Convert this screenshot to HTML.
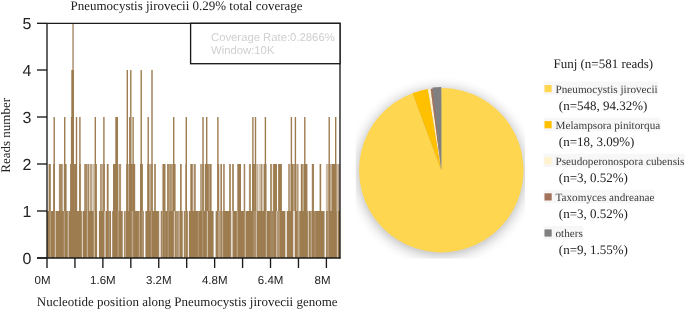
<!DOCTYPE html>
<html><head><meta charset="utf-8"><style>
html,body{margin:0;padding:0;background:#fff;}
text{text-rendering:geometricPrecision;}
body{width:685px;height:318px;overflow:hidden;position:relative;}
svg{position:absolute;left:0;top:0;}
.ser{font-family:"Liberation Serif",serif;}
.title{font-family:"Liberation Serif",serif;font-size:13px;fill:#222;}
.yt{font-family:"Liberation Sans",sans-serif;font-size:16px;fill:#222;text-anchor:end;}
.xt{font-family:"Liberation Sans",sans-serif;font-size:11.5px;fill:#222;text-anchor:middle;}
.cov{font-family:"Liberation Sans",sans-serif;font-size:11.3px;fill:#cfcfcf;}
.ln{font-family:"Liberation Serif",serif;font-size:11.2px;fill:#3a3a3a;}
.lc{font-family:"Liberation Serif",serif;font-size:13px;fill:#222;}
.lt{font-family:"Liberation Serif",serif;font-size:13px;fill:#222;}
</style></head><body>
<svg width="685" height="318" viewBox="0 0 685 318">
<defs><filter id="sh" x="-30%" y="-30%" width="160%" height="160%"><feGaussianBlur in="SourceAlpha" stdDeviation="7"/><feOffset dx="-0.3" dy="1.5" result="b"/><feComponentTransfer><feFuncA type="linear" slope="0.32"/></feComponentTransfer></filter><clipPath id="pc"><rect x="355.7" y="60" width="169.4" height="198.6"/></clipPath></defs>
<text transform="translate(70.5,9.6) skewX(0.05)" class="title">Pneumocystis jirovecii 0.29% total coverage</text>
<g><rect x="47.0" y="211.0" width="293.0" height="47.0" fill="#9d7c50"/><rect x="49.60" y="211.0" width="1.20" height="47.0" fill="#fff" fill-opacity="0.28"/><rect x="54.80" y="211.0" width="1.20" height="47.0" fill="#fff" fill-opacity="0.50"/><rect x="63.70" y="211.0" width="1.20" height="47.0" fill="#fff" fill-opacity="0.28"/><rect x="67.70" y="211.0" width="1.20" height="47.0" fill="#fff" fill-opacity="0.50"/><rect x="81.80" y="211.0" width="1.20" height="47.0" fill="#fff" fill-opacity="0.61"/><rect x="86.80" y="211.0" width="1.20" height="47.0" fill="#fff" fill-opacity="0.39"/><rect x="93.70" y="211.0" width="1.20" height="47.0" fill="#fff" fill-opacity="0.50"/><rect x="97.10" y="211.0" width="1.80" height="47.0" fill="#fff" fill-opacity="1.00"/><rect x="104.25" y="211.0" width="1.50" height="47.0" fill="#fff" fill-opacity="0.61"/><rect x="108.60" y="211.0" width="1.20" height="47.0" fill="#fff" fill-opacity="0.22"/><rect x="111.00" y="211.0" width="1.20" height="47.0" fill="#fff" fill-opacity="0.94"/><rect x="117.60" y="211.0" width="1.20" height="47.0" fill="#fff" fill-opacity="0.28"/><rect x="122.70" y="211.0" width="1.20" height="47.0" fill="#fff" fill-opacity="0.99"/><rect x="124.60" y="211.0" width="1.20" height="47.0" fill="#fff" fill-opacity="0.39"/><rect x="131.75" y="211.0" width="1.50" height="47.0" fill="#fff" fill-opacity="0.33"/><rect x="138.80" y="211.0" width="1.20" height="47.0" fill="#fff" fill-opacity="0.33"/><rect x="141.60" y="211.0" width="1.20" height="47.0" fill="#fff" fill-opacity="0.22"/><rect x="143.80" y="211.0" width="1.60" height="47.0" fill="#fff" fill-opacity="1.00"/><rect x="150.80" y="211.0" width="1.20" height="47.0" fill="#fff" fill-opacity="0.22"/><rect x="158.90" y="211.0" width="2.00" height="47.0" fill="#fff" fill-opacity="0.77"/><rect x="161.70" y="211.0" width="1.20" height="47.0" fill="#fff" fill-opacity="0.28"/><rect x="164.40" y="211.0" width="1.20" height="47.0" fill="#fff" fill-opacity="0.11"/><rect x="167.60" y="211.0" width="1.20" height="47.0" fill="#fff" fill-opacity="0.22"/><rect x="173.80" y="211.0" width="1.20" height="47.0" fill="#fff" fill-opacity="0.55"/><rect x="175.50" y="211.0" width="4.00" height="47.0" fill="#fff" fill-opacity="0.17"/><rect x="178.70" y="211.0" width="1.20" height="47.0" fill="#fff" fill-opacity="0.33"/><rect x="182.70" y="211.0" width="1.20" height="47.0" fill="#fff" fill-opacity="0.88"/><rect x="184.70" y="211.0" width="1.20" height="47.0" fill="#fff" fill-opacity="0.22"/><rect x="187.80" y="211.0" width="1.20" height="47.0" fill="#fff" fill-opacity="0.83"/><rect x="197.80" y="211.0" width="1.20" height="47.0" fill="#fff" fill-opacity="0.17"/><rect x="202.00" y="211.0" width="1.20" height="47.0" fill="#fff" fill-opacity="0.17"/><rect x="206.80" y="211.0" width="1.20" height="47.0" fill="#fff" fill-opacity="0.50"/><rect x="213.60" y="211.0" width="2.00" height="47.0" fill="#fff" fill-opacity="1.00"/><rect x="217.80" y="211.0" width="3.00" height="47.0" fill="#fff" fill-opacity="0.28"/><rect x="221.90" y="211.0" width="1.20" height="47.0" fill="#fff" fill-opacity="0.39"/><rect x="230.90" y="211.0" width="1.80" height="47.0" fill="#fff" fill-opacity="0.72"/><rect x="236.70" y="211.0" width="1.20" height="47.0" fill="#fff" fill-opacity="0.33"/><rect x="244.70" y="211.0" width="1.20" height="47.0" fill="#fff" fill-opacity="0.50"/><rect x="253.40" y="211.0" width="1.20" height="47.0" fill="#fff" fill-opacity="0.22"/><rect x="255.70" y="211.0" width="1.20" height="47.0" fill="#fff" fill-opacity="0.55"/><rect x="265.80" y="211.0" width="1.20" height="47.0" fill="#fff" fill-opacity="0.44"/><rect x="270.00" y="211.0" width="4.00" height="47.0" fill="#fff" fill-opacity="0.09"/><rect x="276.20" y="211.0" width="1.20" height="47.0" fill="#fff" fill-opacity="0.61"/><rect x="278.40" y="211.0" width="1.20" height="47.0" fill="#fff" fill-opacity="0.33"/><rect x="285.20" y="211.0" width="1.80" height="47.0" fill="#fff" fill-opacity="0.77"/><rect x="293.10" y="211.0" width="1.80" height="47.0" fill="#fff" fill-opacity="0.77"/><rect x="297.60" y="211.0" width="2.00" height="47.0" fill="#fff" fill-opacity="0.33"/><rect x="307.80" y="211.0" width="1.20" height="47.0" fill="#fff" fill-opacity="0.55"/><rect x="310.60" y="211.0" width="1.20" height="47.0" fill="#fff" fill-opacity="0.39"/><rect x="314.00" y="211.0" width="2.00" height="47.0" fill="#fff" fill-opacity="0.11"/><rect x="324.50" y="211.0" width="1.60" height="47.0" fill="#fff" fill-opacity="0.88"/><rect x="327.50" y="211.0" width="1.20" height="47.0" fill="#fff" fill-opacity="0.28"/><rect x="336.80" y="211.0" width="1.20" height="47.0" fill="#fff" fill-opacity="0.50"/></g>
<g fill="#9d7c50"><rect x="48.60" y="164.0" width="2.20" height="47.0" fill-opacity="1.00"/><rect x="53.20" y="164.0" width="1.80" height="47.0" fill-opacity="0.95"/><rect x="58.90" y="164.0" width="2.20" height="47.0" fill-opacity="0.88"/><rect x="61.10" y="164.0" width="1.50" height="47.0" fill-opacity="1.00"/><rect x="62.90" y="164.0" width="0.80" height="47.0" fill-opacity="0.30"/><rect x="64.00" y="164.0" width="2.60" height="47.0" fill-opacity="1.00"/><rect x="70.10" y="164.0" width="1.10" height="47.0" fill-opacity="1.00"/><rect x="71.20" y="164.0" width="1.10" height="47.0" fill-opacity="0.55"/><rect x="72.30" y="164.0" width="2.70" height="47.0" fill-opacity="0.95"/><rect x="75.00" y="164.0" width="1.80" height="47.0" fill-opacity="1.00"/><rect x="79.20" y="164.0" width="1.50" height="47.0" fill-opacity="1.00"/><rect x="84.20" y="164.0" width="3.50" height="47.0" fill-opacity="0.88"/><rect x="88.10" y="164.0" width="0.90" height="47.0" fill-opacity="1.00"/><rect x="89.50" y="164.0" width="3.00" height="47.0" fill-opacity="0.69"/><rect x="93.00" y="164.0" width="1.30" height="47.0" fill-opacity="0.49"/><rect x="94.70" y="164.0" width="2.20" height="47.0" fill-opacity="1.00"/><rect x="100.20" y="164.0" width="1.50" height="47.0" fill-opacity="1.00"/><rect x="102.00" y="164.0" width="1.00" height="47.0" fill-opacity="0.62"/><rect x="103.30" y="164.0" width="1.60" height="47.0" fill-opacity="0.88"/><rect x="106.80" y="164.0" width="1.80" height="47.0" fill-opacity="1.00"/><rect x="113.00" y="164.0" width="4.60" height="47.0" fill-opacity="1.00"/><rect x="117.80" y="164.0" width="0.70" height="47.0" fill-opacity="0.43"/><rect x="118.70" y="164.0" width="2.40" height="47.0" fill-opacity="0.82"/><rect x="126.10" y="164.0" width="2.40" height="47.0" fill-opacity="0.88"/><rect x="128.70" y="164.0" width="3.30" height="47.0" fill-opacity="1.00"/><rect x="132.00" y="164.0" width="1.00" height="47.0" fill-opacity="0.88"/><rect x="133.00" y="164.0" width="2.20" height="47.0" fill-opacity="1.00"/><rect x="140.00" y="164.0" width="2.90" height="47.0" fill-opacity="1.00"/><rect x="147.20" y="164.0" width="2.00" height="47.0" fill-opacity="0.95"/><rect x="149.20" y="164.0" width="3.70" height="47.0" fill-opacity="0.69"/><rect x="154.00" y="164.0" width="2.00" height="47.0" fill-opacity="0.82"/><rect x="161.90" y="164.0" width="0.80" height="47.0" fill-opacity="0.49"/><rect x="162.70" y="164.0" width="2.80" height="47.0" fill-opacity="1.00"/><rect x="167.00" y="164.0" width="2.40" height="47.0" fill-opacity="0.88"/><rect x="169.40" y="164.0" width="1.40" height="47.0" fill-opacity="1.00"/><rect x="170.80" y="164.0" width="2.60" height="47.0" fill-opacity="0.75"/><rect x="173.40" y="164.0" width="2.20" height="47.0" fill-opacity="1.00"/><rect x="180.00" y="164.0" width="1.70" height="47.0" fill-opacity="0.95"/><rect x="185.40" y="164.0" width="1.30" height="47.0" fill-opacity="0.88"/><rect x="190.30" y="164.0" width="2.50" height="47.0" fill-opacity="1.00"/><rect x="193.00" y="164.0" width="0.80" height="47.0" fill-opacity="0.23"/><rect x="193.80" y="164.0" width="2.00" height="47.0" fill-opacity="0.88"/><rect x="200.00" y="164.0" width="4.10" height="47.0" fill-opacity="0.69"/><rect x="204.10" y="164.0" width="0.90" height="47.0" fill-opacity="0.23"/><rect x="205.00" y="164.0" width="3.00" height="47.0" fill-opacity="1.00"/><rect x="208.00" y="164.0" width="1.50" height="47.0" fill-opacity="0.88"/><rect x="209.50" y="164.0" width="2.10" height="47.0" fill-opacity="1.00"/><rect x="217.10" y="164.0" width="1.90" height="47.0" fill-opacity="0.88"/><rect x="219.00" y="164.0" width="0.90" height="47.0" fill-opacity="0.23"/><rect x="219.90" y="164.0" width="0.80" height="47.0" fill-opacity="0.55"/><rect x="220.70" y="164.0" width="1.30" height="47.0" fill-opacity="0.95"/><rect x="223.10" y="164.0" width="1.70" height="47.0" fill-opacity="0.88"/><rect x="229.00" y="164.0" width="2.00" height="47.0" fill-opacity="0.82"/><rect x="232.00" y="164.0" width="2.00" height="47.0" fill-opacity="0.82"/><rect x="237.30" y="164.0" width="3.70" height="47.0" fill-opacity="1.00"/><rect x="243.70" y="164.0" width="1.50" height="47.0" fill-opacity="0.95"/><rect x="248.90" y="164.0" width="2.10" height="47.0" fill-opacity="0.82"/><rect x="252.10" y="164.0" width="1.90" height="47.0" fill-opacity="1.00"/><rect x="254.00" y="164.0" width="1.60" height="47.0" fill-opacity="0.88"/><rect x="255.80" y="164.0" width="0.90" height="47.0" fill-opacity="0.36"/><rect x="256.70" y="164.0" width="1.10" height="47.0" fill-opacity="0.75"/><rect x="258.00" y="164.0" width="0.90" height="47.0" fill-opacity="0.30"/><rect x="259.10" y="164.0" width="1.30" height="47.0" fill-opacity="0.49"/><rect x="260.60" y="164.0" width="1.30" height="47.0" fill-opacity="0.95"/><rect x="262.10" y="164.0" width="1.80" height="47.0" fill-opacity="0.43"/><rect x="263.90" y="164.0" width="2.60" height="47.0" fill-opacity="1.00"/><rect x="270.00" y="164.0" width="2.20" height="47.0" fill-opacity="0.82"/><rect x="273.10" y="164.0" width="3.90" height="47.0" fill-opacity="1.00"/><rect x="278.10" y="164.0" width="3.80" height="47.0" fill-opacity="1.00"/><rect x="288.10" y="164.0" width="2.20" height="47.0" fill-opacity="0.75"/><rect x="290.50" y="164.0" width="0.60" height="47.0" fill-opacity="0.23"/><rect x="291.10" y="164.0" width="2.40" height="47.0" fill-opacity="1.00"/><rect x="293.50" y="164.0" width="1.80" height="47.0" fill-opacity="0.75"/><rect x="295.30" y="164.0" width="1.10" height="47.0" fill-opacity="0.36"/><rect x="296.40" y="164.0" width="2.20" height="47.0" fill-opacity="0.75"/><rect x="300.80" y="164.0" width="1.90" height="47.0" fill-opacity="1.00"/><rect x="302.70" y="164.0" width="1.10" height="47.0" fill-opacity="0.69"/><rect x="303.80" y="164.0" width="3.30" height="47.0" fill-opacity="1.00"/><rect x="307.10" y="164.0" width="0.80" height="47.0" fill-opacity="0.43"/><rect x="311.80" y="164.0" width="2.20" height="47.0" fill-opacity="0.95"/><rect x="319.60" y="164.0" width="1.60" height="47.0" fill-opacity="1.00"/><rect x="325.90" y="164.0" width="3.10" height="47.0" fill-opacity="0.52"/><rect x="329.00" y="164.0" width="1.10" height="47.0" fill-opacity="1.00"/><rect x="330.10" y="164.0" width="1.50" height="47.0" fill-opacity="0.65"/><rect x="331.60" y="164.0" width="4.90" height="47.0" fill-opacity="1.00"/><rect x="336.50" y="164.0" width="1.70" height="47.0" fill-opacity="0.49"/><rect x="338.20" y="164.0" width="1.30" height="47.0" fill-opacity="0.88"/><rect x="53.50" y="164.0" width="1.40" height="47.0"/><rect x="64.00" y="164.0" width="1.40" height="47.0"/><rect x="75.80" y="164.0" width="1.40" height="47.0"/><rect x="79.20" y="164.0" width="1.40" height="47.0"/><rect x="94.60" y="164.0" width="1.40" height="47.0"/><rect x="103.20" y="164.0" width="1.40" height="47.0"/><rect x="129.10" y="164.0" width="1.40" height="47.0"/><rect x="132.40" y="164.0" width="1.40" height="47.0"/><rect x="147.50" y="164.0" width="1.40" height="47.0"/><rect x="173.00" y="164.0" width="1.40" height="47.0"/><rect x="185.60" y="164.0" width="1.40" height="47.0"/><rect x="202.30" y="164.0" width="1.40" height="47.0"/><rect x="206.00" y="164.0" width="1.40" height="47.0"/><rect x="217.20" y="164.0" width="1.40" height="47.0"/><rect x="252.20" y="164.0" width="1.40" height="47.0"/><rect x="254.80" y="164.0" width="1.40" height="47.0"/><rect x="264.70" y="164.0" width="1.40" height="47.0"/><rect x="290.70" y="164.0" width="1.40" height="47.0"/><rect x="294.70" y="164.0" width="1.40" height="47.0"/><rect x="304.10" y="164.0" width="1.40" height="47.0"/><rect x="328.50" y="164.0" width="1.40" height="47.0"/><rect x="335.00" y="164.0" width="1.40" height="47.0"/><rect x="115.30" y="164.0" width="2.70" height="47.0"/><rect x="70.90" y="164.0" width="3.10" height="47.0"/><rect x="71.30" y="164.0" width="2.60" height="47.0"/><rect x="126.60" y="164.0" width="1.40" height="47.0"/><rect x="130.10" y="164.0" width="1.40" height="47.0"/><rect x="140.50" y="164.0" width="1.40" height="47.0"/><rect x="151.30" y="164.0" width="1.40" height="47.0"/><rect x="72.20" y="164.0" width="1.70" height="47.0"/><rect x="53.50" y="117.0" width="1.40" height="47.0"/><rect x="64.00" y="117.0" width="1.40" height="47.0"/><rect x="75.80" y="117.0" width="1.40" height="47.0"/><rect x="79.20" y="117.0" width="1.40" height="47.0"/><rect x="94.60" y="117.0" width="1.40" height="47.0"/><rect x="103.20" y="117.0" width="1.40" height="47.0"/><rect x="129.10" y="117.0" width="1.40" height="47.0"/><rect x="132.40" y="117.0" width="1.40" height="47.0"/><rect x="147.50" y="117.0" width="1.40" height="47.0"/><rect x="173.00" y="117.0" width="1.40" height="47.0"/><rect x="185.60" y="117.0" width="1.40" height="47.0"/><rect x="202.30" y="117.0" width="1.40" height="47.0"/><rect x="206.00" y="117.0" width="1.40" height="47.0"/><rect x="217.20" y="117.0" width="1.40" height="47.0"/><rect x="252.20" y="117.0" width="1.40" height="47.0"/><rect x="254.80" y="117.0" width="1.40" height="47.0"/><rect x="264.70" y="117.0" width="1.40" height="47.0"/><rect x="290.70" y="117.0" width="1.40" height="47.0"/><rect x="294.70" y="117.0" width="1.40" height="47.0"/><rect x="304.10" y="117.0" width="1.40" height="47.0"/><rect x="328.50" y="117.0" width="1.40" height="47.0"/><rect x="335.00" y="117.0" width="1.40" height="47.0"/><rect x="115.30" y="117.0" width="2.70" height="47.0"/><rect x="70.90" y="117.0" width="3.10" height="47.0"/><rect x="71.30" y="117.0" width="2.60" height="47.0"/><rect x="126.60" y="117.0" width="1.40" height="47.0"/><rect x="130.10" y="117.0" width="1.40" height="47.0"/><rect x="140.50" y="117.0" width="1.40" height="47.0"/><rect x="151.30" y="117.0" width="1.40" height="47.0"/><rect x="72.20" y="117.0" width="1.70" height="47.0"/><rect x="71.30" y="70.0" width="2.60" height="47.0"/><rect x="126.60" y="70.0" width="1.40" height="47.0"/><rect x="130.10" y="70.0" width="1.40" height="47.0"/><rect x="140.50" y="70.0" width="1.40" height="47.0"/><rect x="151.30" y="70.0" width="1.40" height="47.0"/><rect x="72.20" y="70.0" width="1.70" height="47.0"/><rect fill-opacity="0.75" x="72.20" y="23.3" width="1.70" height="46.7"/></g>
<g stroke="#1a1a1a" stroke-width="1.35" fill="none">
<line x1="47" y1="23" x2="47" y2="258"/>
<line x1="37" y1="258" x2="340.5" y2="258"/>
<line x1="47" y1="23.3" x2="340.5" y2="23.3"/>
<line x1="340" y1="23" x2="340" y2="258.5"/>
<line x1="37" y1="258.0" x2="47" y2="258.0"/><line x1="37" y1="211.0" x2="47" y2="211.0"/><line x1="37" y1="164.0" x2="47" y2="164.0"/><line x1="37" y1="117.0" x2="47" y2="117.0"/><line x1="37" y1="70.0" x2="47" y2="70.0"/><line x1="37" y1="23.3" x2="47" y2="23.3"/><line x1="47.00" y1="258" x2="47.00" y2="268"/><line x1="74.94" y1="258" x2="74.94" y2="268"/><line x1="102.88" y1="258" x2="102.88" y2="268"/><line x1="130.82" y1="258" x2="130.82" y2="268"/><line x1="158.76" y1="258" x2="158.76" y2="268"/><line x1="186.70" y1="258" x2="186.70" y2="268"/><line x1="214.64" y1="258" x2="214.64" y2="268"/><line x1="242.58" y1="258" x2="242.58" y2="268"/><line x1="270.52" y1="258" x2="270.52" y2="268"/><line x1="298.46" y1="258" x2="298.46" y2="268"/><line x1="326.40" y1="258" x2="326.40" y2="268"/>
</g>
<rect x="190.6" y="23.3" width="149.4" height="40.4" fill="#fff" stroke="#1a1a1a" stroke-width="1.35"/>
<text transform="translate(211,40.7) skewX(0.05)" class="cov">Coverage Rate:0.2866%</text>
<text transform="translate(211,53.9) skewX(0.05)" class="cov">Window:10K</text>
<text transform="translate(31.5,264.1) skewX(0.05)" class="yt">0</text><text transform="translate(31.5,217.1) skewX(0.05)" class="yt">1</text><text transform="translate(31.5,170.1) skewX(0.05)" class="yt">2</text><text transform="translate(31.5,123.1) skewX(0.05)" class="yt">3</text><text transform="translate(31.5,76.1) skewX(0.05)" class="yt">4</text><text transform="translate(31.5,29.1) skewX(0.05)" class="yt">5</text>
<text transform="translate(42.6,284.4) skewX(0.05)" class="xt">0M</text><text transform="translate(102.9,284.4) skewX(0.05)" class="xt">1.6M</text><text transform="translate(158.8,284.4) skewX(0.05)" class="xt">3.2M</text><text transform="translate(214.7,284.4) skewX(0.05)" class="xt">4.8M</text><text transform="translate(270.6,284.4) skewX(0.05)" class="xt">6.4M</text><text transform="translate(322.6,284.4) skewX(0.05)" class="xt">8M</text>
<text transform="translate(10.2,172.7) rotate(-90) skewX(0.05)" class="title">Reads number</text>
<text transform="translate(36.8,306) skewX(0.05)" class="title">Nucleotide position along Pneumocystis jirovecii genome</text>
<g clip-path="url(#pc)"><g filter="url(#sh)"><circle cx="441.3" cy="170.2" r="82.2" fill="#000"/></g></g><g><path d="M441.30,170.20 L441.30,88.00 A82.2,82.2 0 1 1 412.58,93.18 Z" fill="#ffd64f"/><path d="M441.30,170.20 L412.58,93.18 A82.2,82.2 0 0 1 427.98,89.09 Z" fill="#ffc000"/><path d="M441.30,170.20 L427.98,89.09 A82.2,82.2 0 0 1 430.64,88.69 Z" fill="#fff2cc"/><path d="M441.30,170.20 L430.64,88.69 A82.2,82.2 0 0 1 433.31,88.39 Z" fill="#a3715a"/><path d="M441.30,170.20 L432.49,87.47 A83.2,83.2 0 0 1 441.30,87.00 Z" fill="#808080"/></g>
<text transform="translate(553.4,68.4) skewX(0.05)" class="lt">Funj (n=581 reads)</text>
<rect x="543.6" y="81.5" width="114.6" height="13.5" fill="#f7f7f7"/><rect x="544.5" y="85.0" width="7.2" height="7.2" fill="#ffd64f"/><text transform="translate(555.5,92.6) skewX(0.05)" class="ln">Pneumocystis jirovecii</text><text transform="translate(558.8,109.6) skewX(0.05)" class="lc">(n=548, 94.32%)</text><rect x="543.6" y="117.6" width="117.1" height="13.5" fill="#f7f7f7"/><rect x="544.5" y="121.1" width="7.2" height="7.2" fill="#ffc000"/><text transform="translate(555.5,128.7) skewX(0.05)" class="ln">Melampsora pinitorqua</text><text transform="translate(558.8,145.7) skewX(0.05)" class="lc">(n=18, 3.09%)</text><rect x="543.6" y="153.7" width="141.4" height="13.5" fill="#f7f7f7"/><rect x="544.5" y="157.2" width="7.2" height="7.2" fill="#fff2cc"/><text transform="translate(555.5,164.8) skewX(0.05)" class="ln">Pseudoperonospora cubensis</text><text transform="translate(558.8,181.8) skewX(0.05)" class="lc">(n=3, 0.52%)</text><rect x="543.6" y="189.8" width="111.3" height="13.5" fill="#f7f7f7"/><rect x="544.5" y="193.3" width="7.2" height="7.2" fill="#a3715a"/><text transform="translate(555.5,200.9) skewX(0.05)" class="ln">Taxomyces andreanae</text><text transform="translate(558.8,217.9) skewX(0.05)" class="lc">(n=3, 0.52%)</text><rect x="543.6" y="225.9" width="39.7" height="13.5" fill="#f7f7f7"/><rect x="544.5" y="229.4" width="7.2" height="7.2" fill="#808080"/><text transform="translate(555.5,237.0) skewX(0.05)" class="ln">others</text><text transform="translate(558.8,254.0) skewX(0.05)" class="lc">(n=9, 1.55%)</text>
</svg>
</body></html>
